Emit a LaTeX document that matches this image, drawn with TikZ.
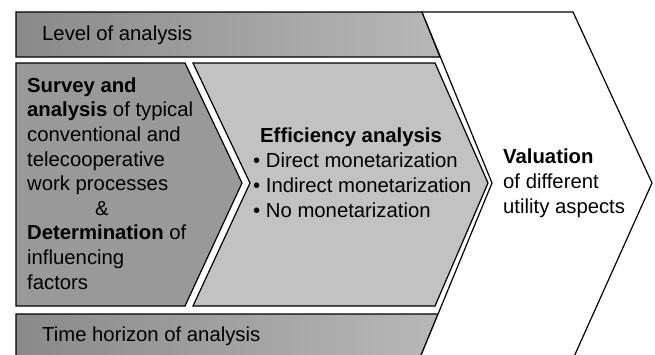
\documentclass[tikz,border=0pt]{standalone}
\usepackage{fontspec}
\setmainfont{Liberation Sans}
\usetikzlibrary{positioning}
\definecolor{bardark}{gray}{0.54}
\definecolor{barlight}{gray}{0.72}
\definecolor{leftgray}{gray}{0.60}
\definecolor{midgray}{gray}{0.76}
\tikzset{
	outline/.style={draw=black, line width=1.2pt, line join=miter},
	txt/.style={inner sep=0pt, font=\fontsize{20.3}{24.6}\selectfont, align=left}
}
\begin{document}
\begin{tikzpicture}[x=1pt,y=-1pt]
	\useasboundingbox (0,0) rectangle (655,354);
	\clip (0,0) rectangle (655,354);
	\shadedraw	[left color=bardark, right color=barlight]	[outline] (16,12) -- (422,12) -- (440,57) -- (16,57) -- cycle;
	\shadedraw	[left color=bardark, right color=barlight]	[outline] (16,314) -- (438,314) -- (415,370) -- (16,370) -- cycle;
	\filldraw	[fill=white]	[outline] (422,12) -- (573,12) -- (652,183) -- (568,370) -- (415,370) -- (492,183) -- cycle;
	\filldraw	[fill=leftgray]	[outline] (16,63) -- (185,63) -- (242,183) -- (185,306) -- (16,306) -- cycle;
	\filldraw	[fill=midgray]	[outline] (193,63) -- (435,63) -- (488,183) -- (435,306) -- (193,306) -- (250,183) -- cycle;
	\node[txt, anchor=base west] (level) at (42,40) {Level of analysis};
	\node[txt, anchor=base west] (horizon) at (42,341) {Time horizon of analysis};
	\node[txt, anchor=base west] (survey) at (27,289) {\textbf{Survey and}\\\textbf{analysis} of typical\\conventional and\\telecooperative\\work processes\\\hspace{3.35em}\&\\\textbf{Determination} of\\influencing\\factors};
	\node[txt, anchor=base west] (efficiency) at (260,142) {\textbf{Efficiency analysis}};
	\node[txt, anchor=base west] (bullets) at (253,217) {\textbullet{} Direct monetarization\\\textbullet{} Indirect monetarization\\\textbullet{} No monetarization};
	\node[txt, anchor=base west] (valuation) at (503,213) {\textbf{Valuation}\\of different\\utility aspects};
\end{tikzpicture}
\end{document}
